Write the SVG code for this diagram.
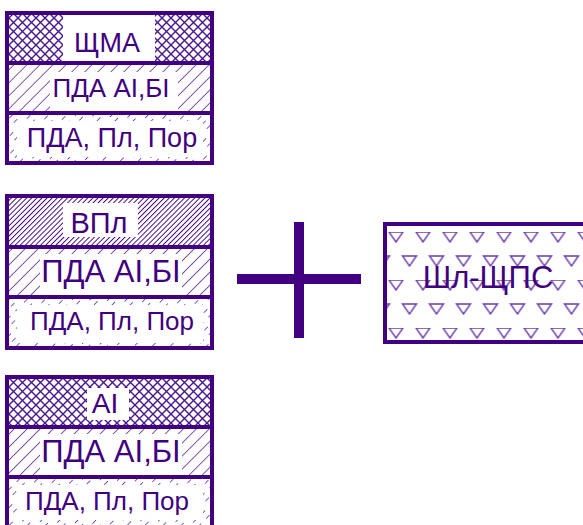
<svg xmlns="http://www.w3.org/2000/svg" width="583" height="525" viewBox="0 0 583 525">
<style>
.frame{fill:none;stroke:#400080;stroke-width:4}
.div{stroke:#400080;stroke-width:4}
.bg{fill:#ffffff}
.t{font-family:"Liberation Sans",Arial,sans-serif;fill:#400080;text-anchor:middle}
</style>
<defs>
<pattern id="cross" patternUnits="userSpaceOnUse" width="9" height="9">
<path d="M0,0L9,9M9,0L0,9" stroke="#4a1590" stroke-width="1.4" fill="none"/>
</pattern>
<pattern id="hatch" patternUnits="userSpaceOnUse" width="9.2" height="9.2" patternTransform="rotate(45)">
<line x1="0" y1="0" x2="0" y2="9.2" stroke="#4a1590" stroke-width="1.4"/>
</pattern>
<pattern id="dense" patternUnits="userSpaceOnUse" width="3.6" height="3.6" patternTransform="rotate(45)">
<line x1="0" y1="0" x2="0" y2="3.6" stroke="#400080" stroke-width="1.9"/>
</pattern>
<pattern id="ticks" patternUnits="userSpaceOnUse" width="6.4" height="12" patternTransform="rotate(45)">
<line x1="0" y1="0" x2="0" y2="5" stroke="#4a1590" stroke-width="1.4"/>
</pattern>
<pattern id="tri" patternUnits="userSpaceOnUse" x="382.5" y="232" width="27" height="48">
<g fill="none" stroke="#6a3aac" stroke-width="1.4">
<path d="M6.5,0L20.5,0L13.5,10Z"/>
<path d="M-7,24L7,24L0,34Z"/>
<path d="M20,24L34,24L27,34Z"/>
</g>
</pattern>
</defs>

<g id="box1">
<rect x="7" y="13" width="205" height="50" fill="url(#cross)"/>
<rect x="7" y="63" width="205" height="50" fill="url(#hatch)"/>
<rect x="7" y="113" width="205" height="50" fill="url(#ticks)"/>
<rect class="bg" x="63" y="15" width="92" height="46"/>
<rect class="bg" x="50" y="72" width="128" height="39"/>
<rect class="bg" x="17" y="121" width="186" height="36"/>
<rect class="frame" x="7" y="13" width="205" height="150"/>
<line class="div" x1="7" y1="63" x2="212" y2="63"/>
<line class="div" x1="7" y1="113" x2="212" y2="113"/>
<text class="t" x="107" y="52" font-size="27">ЩМА</text>
<text class="t" x="111" y="97" font-size="26">ПДА АІ,БІ</text>
<text class="t" x="112" y="147" font-size="27">ПДА, Пл, Пор</text>
</g>

<g id="box2">
<rect x="7" y="196" width="205" height="51" fill="url(#dense)"/>
<rect x="7" y="247" width="205" height="50" fill="url(#hatch)"/>
<rect x="7" y="297" width="205" height="51" fill="url(#ticks)"/>
<rect class="bg" x="63" y="203" width="75" height="34"/>
<rect class="bg" x="40" y="254" width="142" height="41"/>
<rect class="bg" x="17" y="305" width="186" height="38"/>
<rect class="frame" x="7" y="196" width="205" height="152"/>
<line class="div" x1="7" y1="247" x2="212" y2="247"/>
<line class="div" x1="7" y1="297" x2="212" y2="297"/>
<text class="t" x="99" y="233" font-size="29">ВПл</text>
<text class="t" x="111" y="282" font-size="31">ПДА АІ,БІ</text>
<text class="t" x="112" y="330" font-size="26">ПДА, Пл, Пор</text>
</g>

<g id="box3">
<rect x="7" y="377" width="205" height="50" fill="url(#cross)"/>
<rect x="7" y="427" width="205" height="50" fill="url(#hatch)"/>
<rect x="7" y="477" width="205" height="50" fill="url(#ticks)"/>
<rect class="bg" x="87" y="388" width="42" height="32"/>
<rect class="bg" x="40" y="434" width="142" height="41"/>
<rect class="bg" x="17" y="485" width="186" height="35"/>
<rect class="frame" x="7" y="377" width="205" height="152"/>
<line class="div" x1="7" y1="427" x2="212" y2="427"/>
<line class="div" x1="7" y1="477" x2="212" y2="477"/>
<text class="t" x="105" y="413" font-size="28">АІ</text>
<text class="t" x="111" y="462" font-size="31">ПДА АІ,БІ</text>
<text class="t" x="107" y="510" font-size="26">ПДА, Пл, Пор</text>
</g>

<g id="plus">
<rect x="237" y="274" width="124" height="10" fill="#400080"/>
<rect x="294" y="222" width="10" height="116" fill="#400080"/>
</g>

<g id="box4">
<rect x="385" y="224" width="220" height="118" fill="url(#tri)"/>
<rect class="frame" x="385" y="224" width="220" height="118"/>
<text class="t" x="488" y="288" font-size="31">Шл-ЩПС</text>
</g>

<g id="connectors"/>
</svg>
